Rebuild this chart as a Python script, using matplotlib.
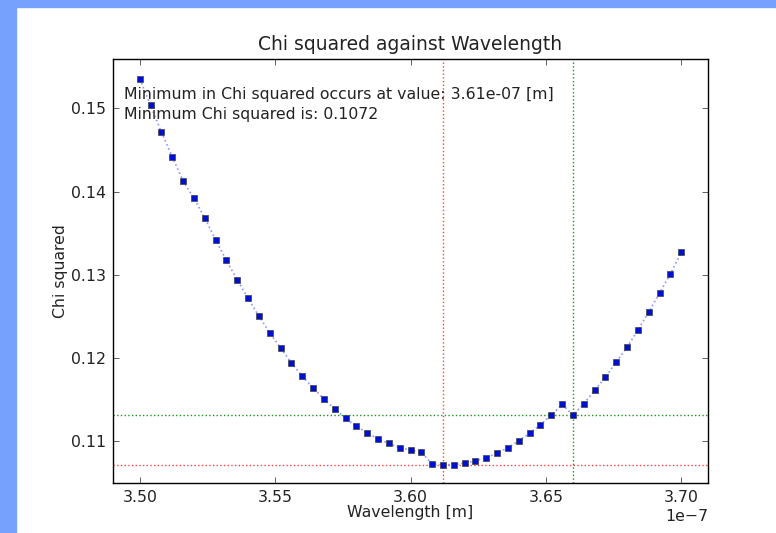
import numpy as np
import matplotlib
matplotlib.use("Agg")
import matplotlib.pyplot as plt
from matplotlib.patches import Rectangle

# scanned wavelengths [m] and chi squared
wavelength = np.linspace(3.50e-7, 3.70e-7, 51)
chi2 = [0.15356, 0.15036, 0.14715, 0.14419, 0.14130, 0.13919, 0.13686, 0.13422, 0.13174, 0.12941,
        0.12718, 0.12505, 0.12305, 0.12124, 0.11944, 0.11784, 0.11644, 0.11508, 0.11392, 0.11276,
        0.11180, 0.11103, 0.11028, 0.10976, 0.10923, 0.10895, 0.10871, 0.10727, 0.10719, 0.10721,
        0.10739, 0.10767, 0.10803, 0.10859, 0.10923, 0.11007, 0.11096, 0.11199, 0.11316, 0.11444,
        0.11316, 0.11452, 0.11613, 0.11772, 0.11953, 0.12133, 0.12337, 0.12557, 0.12781, 0.13013,
        0.13270]

min_wl = 3.612e-7
min_chi = 0.1072
other_wl = 3.66e-7
other_chi = 0.11316
xticks = [3.50e-7, 3.55e-7, 3.60e-7, 3.65e-7, 3.70e-7]
yticks = [0.11, 0.12, 0.13, 0.14, 0.15]

plt.rcParams['font.family'] = ['DejaVu Sans']
fs = 11.3
fig = plt.figure(figsize=(7.76, 5.33), dpi=100)
fig.patch.set_facecolor("white")
# blue frame of the screenshot
fig.patches.append(Rectangle((0, 1 - 7/533), 1, 7/533, transform=fig.transFigure,
                             color="#76a1fd", zorder=0))
fig.patches.append(Rectangle((0, 0), 16/776, 1, transform=fig.transFigure,
                             color="#76a1fd", zorder=0))

ax = fig.add_axes([0.1452, 0.0932, 0.7676, 0.7955])

ax.plot(wavelength, chi2, ls=":", color="#4050ff", lw=1.2, alpha=0.6, zorder=2)
ax.plot(wavelength, chi2, ls="none", marker="s", ms=4, mfc="#0010d0", mec="#404040",
        mew=0.5, zorder=3)
ax.axvline(min_wl, ls=":", color="#ff4040", lw=1, zorder=1)
ax.axhline(min_chi, ls=":", color="#ff4040", lw=1, zorder=1)
ax.axvline(other_wl, ls=":", color="#209020", lw=1, zorder=1)
ax.axhline(other_chi, ls=":", color="#209020", lw=1, zorder=1)

ax.text(0.0185, 0.918, "Minimum in Chi squared occurs at value: %.2e [m]" % min_wl,
        transform=ax.transAxes, va="center", fontsize=fs, color="#222222")
ax.text(0.0185, 0.869, "Minimum Chi squared is: %.4f" % min_chi,
        transform=ax.transAxes, va="center", fontsize=fs, color="#222222")

ax.set_xlim(3.49e-7, 3.71e-7)
ax.set_ylim(0.10496, 0.1559)
ax.set_xticks(xticks)
ax.set_yticks(yticks)
ax.ticklabel_format(axis="x", useOffset=False)
ax.tick_params(direction="in", top=True, right=True, length=4, width=0.5,
               labelsize=fs, colors="#222222", pad=5)
ax.xaxis.get_offset_text().set_fontsize(fs)
for s in ax.spines.values():
    s.set_linewidth(1.0)

ax.set_title("Chi squared against Wavelength", fontsize=13.5, color="#222222", pad=7)
ax.set_xlabel("Wavelength [m]", fontsize=fs, color="#222222", labelpad=0)
ax.set_ylabel("Chi squared", fontsize=fs, color="#222222", labelpad=2)

fig.savefig("out.png", dpi=100)
